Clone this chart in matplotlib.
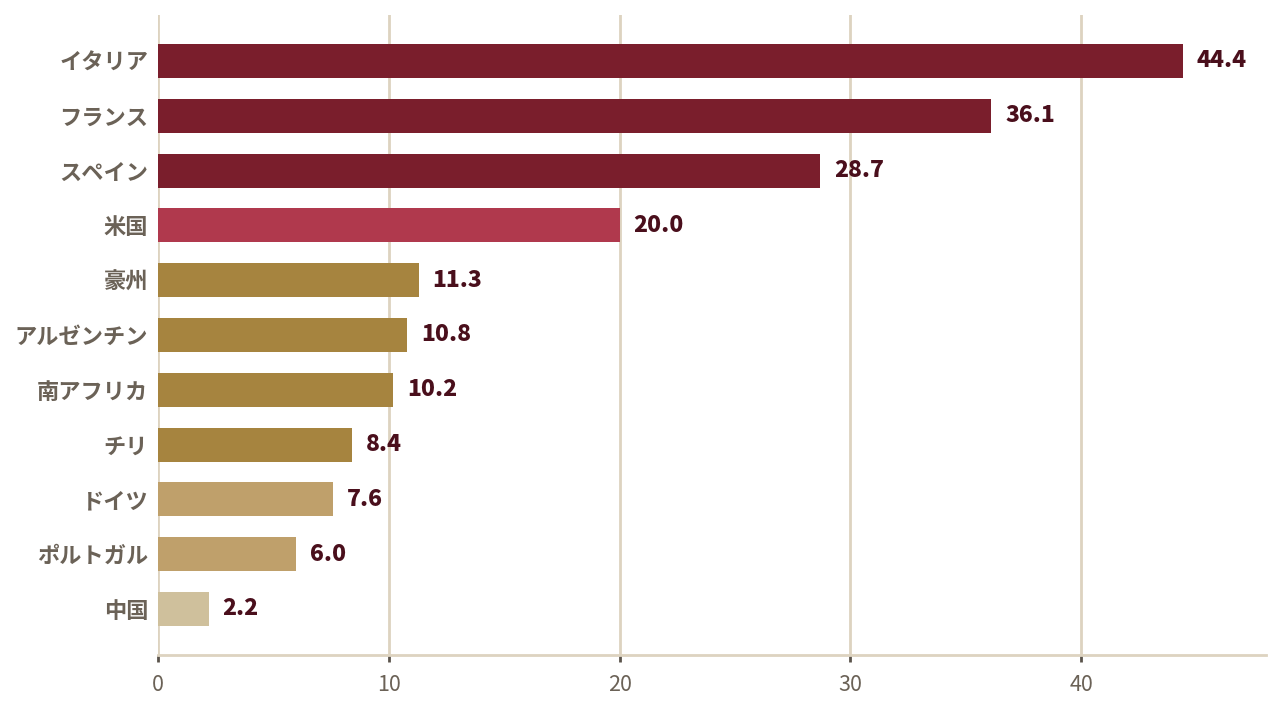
import matplotlib
matplotlib.use("Agg")
import matplotlib.pyplot as plt

plt.rcParams["font.family"] = ["Noto Sans CJK JP", "DejaVu Sans"]

countries = ["イタリア", "フランス", "スペイン", "米国", "豪州", "アルゼンチン",
             "南アフリカ", "チリ", "ドイツ", "ポルトガル", "中国"]
values = [44.4, 36.1, 28.7, 20.0, 11.3, 10.8, 10.2, 8.4, 7.6, 6.0, 2.2]
colors = ["#7a1e2c", "#7a1e2c", "#7a1e2c", "#b0394d", "#a6843f", "#a6843f",
          "#a6843f", "#a6843f", "#bfa06b", "#bfa06b", "#cfc09c"]

fig = plt.figure(figsize=(12.8, 7.09), dpi=100)
ax = fig.add_axes([0.1234, 0.0762, 0.8656, 0.9028])

y = list(range(len(countries)))
ax.barh(y, values, height=0.62, color=colors, zorder=3)

for yi, v in zip(y, values):
    ax.text(v + 0.6, yi, f"{v:.1f}", va="center", ha="left", fontsize=16.5,
            fontweight="black", color="#4a0f1c", zorder=4)

ax.set_xlim(0, 48)
ax.set_ylim(10.84, -0.84)
ax.set_xticks([0, 10, 20, 30, 40])
ax.set_yticks(y)
ax.set_yticklabels(countries, fontweight="bold")

ax.grid(axis="x", color="#ddd3c0", linewidth=2, zorder=0)
ax.grid(axis="y", visible=False)

for s in ["top", "right", "left"]:
    ax.spines[s].set_visible(False)
ax.spines["bottom"].set_color("#ddd3c0")
ax.spines["bottom"].set_linewidth(2)

ax.tick_params(axis="y", length=0, pad=7, labelsize=16, labelcolor="#6b6257")
ax.tick_params(axis="x", length=5, width=2, color="#5a534b", pad=9,
               labelsize=15.5, labelcolor="#6b6257")

fig.savefig("out.png", dpi=100, facecolor="white")
